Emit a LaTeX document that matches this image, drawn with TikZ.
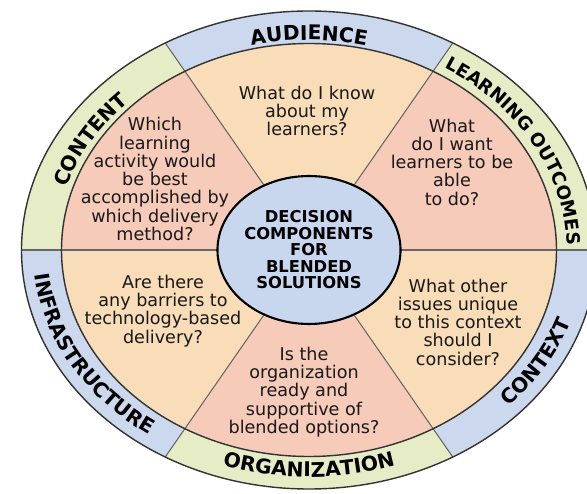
\documentclass[tikz,border=0pt]{standalone}
\usepackage{fontspec}
\setmainfont{DejaVu Sans}
\usetikzlibrary{decorations.text,shapes.geometric}

\definecolor{ringblue}{HTML}{CBD8EE}
\definecolor{ringgreen}{HTML}{E6ECC6}
\definecolor{peach}{HTML}{F9DDB9}
\definecolor{sectorpink}{HTML}{F6CBBA}
\definecolor{hubblue}{HTML}{C8D6EE}

\newcommand{\ringfont}{\bfseries\fontsize{11.5}{12}\selectfont}
\newcommand{\smallringfont}{\bfseries\fontsize{10.4}{11}\selectfont}

\tikzset{
  question/.style={align=center, font=\fontsize{10}{10.4}\selectfont, text=black!90},
  hub/.style={ellipse, draw=black, line width=1.2pt, fill=hubblue, inner sep=0pt,
    minimum width=3.44cm, minimum height=2.96cm, align=center,
    font=\bfseries\fontsize{9.3}{9.4}\selectfont},
  spoke/.style={draw=black!60, line width=0.6pt},
  rim/.style={draw=black!80, line width=0.8pt},
  ringlabel/.style={decorate, decoration={text along path, text align=center, text={|\ringfont|#1}}},
  longlabel/.style={decorate, decoration={text along path, text align=center, text={|\smallringfont|#1}}}
}

\begin{document}
\begin{tikzpicture}[x=0.02cm, y=0.02cm]
  \useasboundingbox (0,0) rectangle (587,493);
  \clip (0,0) rectangle (587,493);
  \coordinate (c) at (309,243);

  % soft shadow to the lower left
  \foreach \s in {2,4,...,12} {
    \fill[black, opacity=0.05, shift={(-\s,-0.6*\s)}] (c) ellipse [x radius=287.5, y radius=239];
  }

  % outer ring segments
  \foreach \a/\col in {0/ringgreen, 60/ringblue, 120/ringgreen, 180/ringblue, 240/ringgreen, 300/ringblue} {
    \fill[\col, shift={(c)}] (0,0) -- (\a:287.5 and 239) arc[start angle=\a, delta angle=60, x radius=287.5, y radius=239] -- cycle;
  }

  % inner sectors
  \foreach \a/\col in {0/sectorpink, 60/peach, 120/sectorpink, 180/peach, 240/sectorpink, 300/peach} {
    \fill[\col, shift={(c)}] (0,0) -- (\a:247.5 and 206.5) arc[start angle=\a, delta angle=60, x radius=247.5, y radius=206.5] -- cycle;
  }

  % spokes and rims
  \foreach \a in {0,60,...,300} {
    \draw[spoke, shift={(c)}] (0,0) -- (\a:287.5 and 239);
  }
  \draw[rim] (c) ellipse [x radius=287.5, y radius=239];
  \draw[rim] (c) ellipse [x radius=247.5, y radius=206.5];

  % centre
  \node[hub] (hub) at (c) {DECISION\\COMPONENTS\\FOR\\BLENDED\\SOLUTIONS};

  % questions
  \node[question] (qaud) at (307,382) {What do I know\\about my\\learners?};
  \node[question] (qout) at (452,331) {What\\do I want\\learners to be\\able\\to do?};
  \node[question] (qctx) at (458,171) {What other\\issues unique\\to this context\\should I\\consider?};
  \node[question] (qorg) at (304,101) {Is the\\organization\\ready and\\supportive of\\blended options?};
  \node[question] (qinf) at (163,182) {Are there\\any barriers to\\technology-based\\delivery?};
  \node[question] (qcon) at (155,314) {Which\\learning\\activity would\\be best\\accomplished by\\which delivery\\method?};

  % ring labels
  \path[ringlabel=AUDIENCE, shift={(c)}] (120:254 and 210) arc[start angle=120, end angle=60, x radius=254, y radius=210];
  \path[longlabel=LEARNING OUTCOMES, shift={(c)}] (63:258 and 214) arc[start angle=63, end angle=-4, x radius=258, y radius=214];
  \path[ringlabel=CONTENT, shift={(c)}] (180:254 and 210) arc[start angle=180, end angle=120, x radius=254, y radius=210];
  \path[ringlabel=INFRASTRUCTURE, shift={(c)}] (180:276 and 227) arc[start angle=180, end angle=240, x radius=276, y radius=227];
  \path[ringlabel=ORGANIZATION, shift={(c)}] (240:276 and 227) arc[start angle=240, end angle=300, x radius=276, y radius=227];
  \path[ringlabel=CONTEXT, shift={(c)}] (300:276 and 227) arc[start angle=300, end angle=360, x radius=276, y radius=227];
\end{tikzpicture}
\end{document}
